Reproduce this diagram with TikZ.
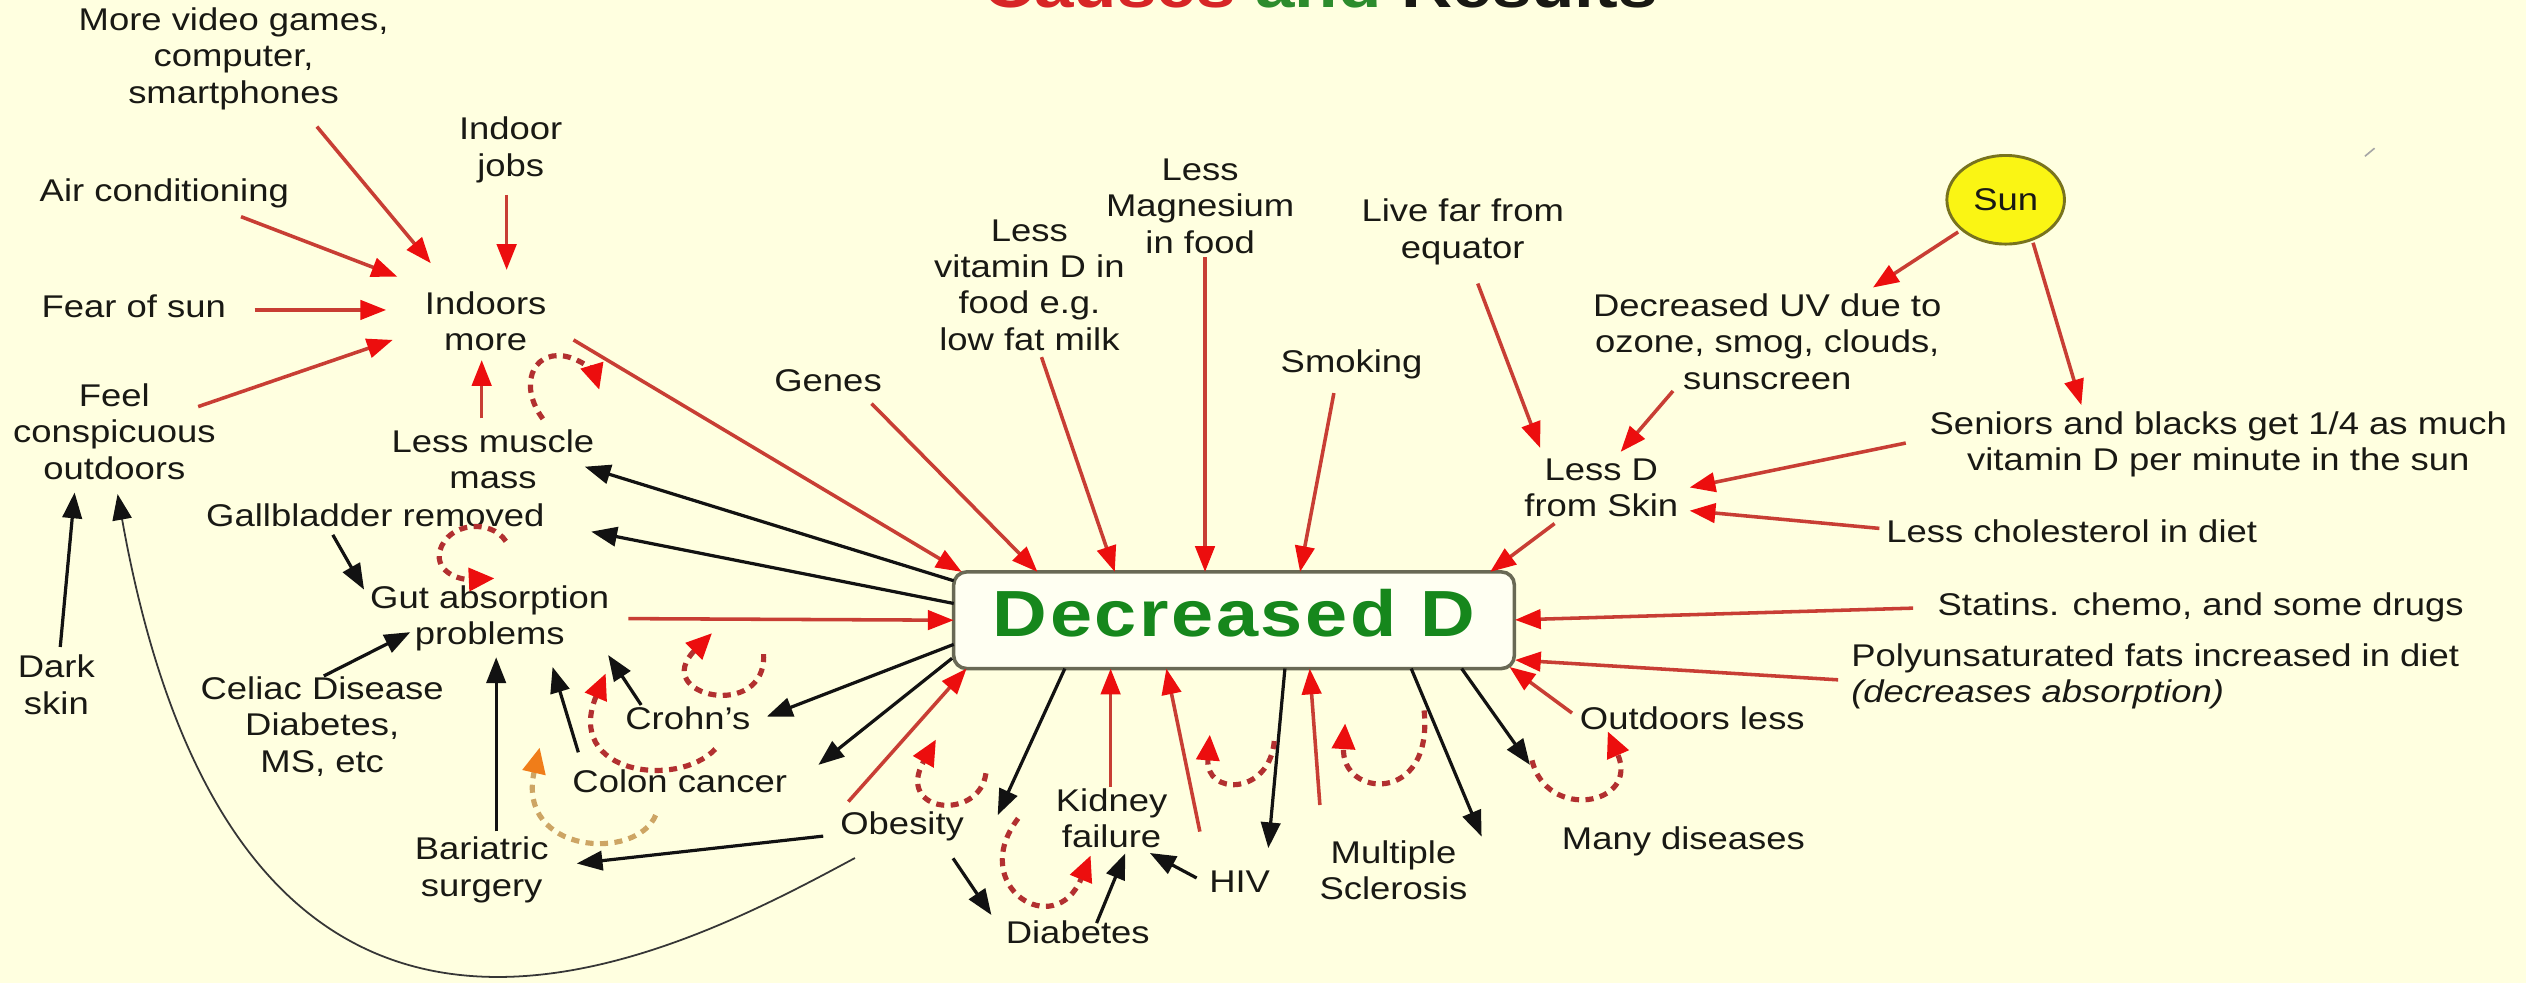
\documentclass[tikz,border=0pt]{standalone}
\usepackage{fontspec}
\setmainfont{Liberation Sans}[FakeStretch=1.16]
\newfontfamily\ddfont{Liberation Sans}[FakeStretch=1.16,LetterSpace=4]
\usetikzlibrary{arrows.meta,shapes.geometric}
\definecolor{bgc}{RGB}{255,255,224}
\definecolor{txtc}{RGB}{25,25,20}
\definecolor{redline}{RGB}{200,62,52}
\definecolor{redhead}{RGB}{236,14,14}
\definecolor{loopc}{RGB}{178,48,48}
\definecolor{orline}{RGB}{205,165,100}
\definecolor{orhead}{RGB}{240,125,25}
\definecolor{blk}{RGB}{18,18,18}
\definecolor{boxline}{RGB}{105,105,85}
\definecolor{boxfill}{RGB}{255,255,242}
\definecolor{ddgreen}{RGB}{22,135,28}
\definecolor{tred}{RGB}{215,38,38}
\definecolor{tgreen}{RGB}{45,140,45}
\definecolor{sunfill}{RGB}{250,245,20}
\definecolor{sunline}{RGB}{120,115,30}
\begin{document}
\begin{tikzpicture}[x=1pt,y=-1pt,
 txt/.style={align=center,inner sep=0pt,text=txtc,font=\fontsize{19.5}{22.5}\selectfont},
 ra/.style={draw=redline,line width=2.2pt,-{Triangle[length=16pt,width=12pt,color=redhead]}},
 ba/.style={draw=blk,line width=2pt,-{Triangle[length=16pt,width=12pt,color=blk]}},
 bthin/.style={draw=blk!85,line width=1.1pt,-{Triangle[length=16pt,width=12pt,color=blk]}},
 lp/.style={draw=loopc,line width=3.2pt,dash pattern=on 5pt off 4pt,-{Triangle[length=16pt,width=14pt,color=redhead]}},
 olp/.style={draw=orline,line width=3.2pt,dash pattern=on 5pt off 4pt,-{Triangle[length=16pt,width=14pt,color=orhead]}}]
\useasboundingbox (0,0) rectangle (1568,610);
\fill[bgc] (0,0) rectangle (1568,610);
\clip (0,0) rectangle (1568,610);

% title (cut at the top edge)
\node[anchor=base west,inner sep=0pt,text=txtc,font=\bfseries\fontsize{38}{38}\selectfont] (title) at (610,4.5)
  {\textcolor{tred}{Causes} \textcolor{tgreen}{and} Results};

% nodes
\node[txt] (vg) at (145,36.5) {More video games,\\computer,\\smartphones};
\node[txt] (ij) at (317,93) {Indoor\\jobs};
\node[txt] (ac) at (102,120) {Air conditioning};
\node[txt] (fs) at (83,190) {Fear of sun};
\node[txt] (fc) at (71,268) {Feel\\conspicuous\\outdoors};
\node[txt] (im) at (301.5,199.5) {Indoors\\more};
\node[txt] (lm) at (306,285) {Less muscle\\mass};
\node[txt] (gb) at (233,320) {Gallbladder removed};
\node[txt] (ga) at (304,384) {Gut absorption\\problems};
\node[txt] (ds) at (35,425) {Dark\\skin};
\node[txt] (cd) at (200,451) {Celiac Disease\\Diabetes,\\MS, etc};
\node[txt] (cr) at (427,446) {Crohn’s};
\node[txt] (cc) at (422,485) {Colon cancer};
\node[txt] (bs) at (299,540) {Bariatric\\surgery};
\node[txt] (ob) at (560,513) {Obesity};
\node[txt] (kf) at (690,508) {Kidney\\failure};
\node[txt] (db) at (669,579) {Diabetes};
\node[txt] (hiv) at (769.5,547) {HIV};
\node[txt] (ms) at (865,540) {Multiple\\Sclerosis};
\node[txt] (md) at (1045,522) {Many diseases};
\node[txt] (ol) at (1050.5,446) {Outdoors less};
\node[txt,align=left,anchor=west] (pf) at (1149,420) {Polyunsaturated fats increased in diet\\\textit{(decreases absorption)}};
\node[txt] (st) at (1366,377) {Statins. chemo, and some drugs};
\node[txt] (lc) at (1286,330) {Less cholesterol in diet};
\node[txt] (sb) at (1377,276) {Seniors and blacks get 1/4 as much\\vitamin D per minute in the sun};
\node[txt] (ls) at (994,303) {Less D\\from Skin};
\node[txt] (uv) at (1097,212) {Decreased UV due to\\ozone, smog, clouds,\\sunscreen};
\node[txt,ellipse,draw=sunline,fill=sunfill,line width=1.8pt,minimum width=73pt,minimum height=55pt] (sun) at (1245,124) {Sun};
\node[txt] (eq) at (908,144) {Live far from\\equator};
\node[txt] (sm) at (839,226) {Smoking};
\node[txt] (mg) at (745,128) {Less\\Magnesium\\in food};
\node[txt] (vd) at (639,177) {Less\\vitamin D in\\food e.g.\\low fat milk};
\node[txt] (ge) at (514,236) {Genes};
\node[draw=boxline,fill=boxfill,line width=2.2pt,rounded corners=8pt,minimum width=348pt,minimum height=60pt,inner sep=0pt,
  text=ddgreen,text height=29pt,text depth=9pt,font=\ddfont\bfseries\fontsize{40.5}{40.5}\selectfont] (dd) at (766,385) {Decreased D};
\coordinate (x1) at (619.3,506);

% connectors into "Indoors more"
\draw[ra] ([shift={(51.7,42.1)}]vg.center) -- ([shift={(-34.1,-36.1)}]im.center);
\draw[ra] ([shift={(-2.5,28)}]ij.center) -- ([shift={(13,-31.9)}]im.center);
\draw[ra] ([shift={(47.6,14.5)}]ac.center) -- ([shift={(-54.9,-27.8)}]im.center);
\draw[ra] ([shift={(75,2.4)}]fs.center) -- ([shift={(-61.8,-7.1)}]im.center);
\draw[ra] ([shift={(52,-15.6)}]fc.center) -- ([shift={(-57.7,11.5)}]im.center);
\draw[ra] ([shift={(-7,-25.3)}]lm.center) -- ([shift={(-2.5,24)}]im.center);
\draw[ra] ([shift={(54.5,11.5)}]im.center) -- ([shift={(-169,-30)}]dd.center);

% left side
\draw[ba] ([shift={(-174,-24.5)}]dd.center) -- ([shift={(57,4.7)}]lm.center);
\draw[ba] ([shift={(-174,-10.4)}]dd.center) -- ([shift={(134,10)}]gb.center);
\draw[ra] ([shift={(86,0)}]ga.center) -- ([shift={(-174,0)}]dd.center);
\draw[ba] ([shift={(-26.4,12)}]gb.center) -- ([shift={(-78,-18)}]ga.center);
\draw[ba] ([shift={(1,-31.4)}]cd.center) -- ([shift={(-49.3,8.4)}]ga.center);
\draw[ba] ([shift={(2.4,-23.4)}]ds.center) -- ([shift={(-24.7,37.7)}]fc.center);
\draw[bthin] ([shift={(-29.3,19.6)}]ob.center) .. controls (420,592) and (150,738) .. ([shift={(2,38.7)}]fc.center);
\draw[ba] ([shift={(9,-24)}]bs.center) -- ([shift={(4,24)}]ga.center);
\draw[ba] ([shift={(-63,-18)}]cc.center) -- ([shift={(39,30)}]ga.center);
\draw[ba] ([shift={(-29,-8.4)}]cr.center) -- ([shift={(73.5,22.6)}]ga.center);
\draw[ba] ([shift={(-174,15)}]dd.center) -- ([shift={(49,-1.2)}]cr.center);
\draw[ba] ([shift={(-175,23.6)}]dd.center) -- ([shift={(86,-10.2)}]cc.center);
\draw[ra] ([shift={(-33.4,-15.4)}]ob.center) -- ([shift={(-166,30)}]dd.center);
\draw[ba] ([shift={(-49,6)}]ob.center) -- ([shift={(59,-4)}]bs.center);
\draw[ba] ([shift={(31.6,19.8)}]ob.center) -- ([shift={(-53.6,-11)}]db.center);

% bottom
\draw[ba] ([shift={(-105,30)}]dd.center) -- (x1);
\draw[ra] ([shift={(-0.6,-19.7)}]kf.center) -- ([shift={(-76.6,30)}]dd.center);
\draw[ba] ([shift={(11.7,-6)}]db.center) -- ([shift={(8.5,21.7)}]kf.center);
\draw[ba] ([shift={(-26.7,-2)}]hiv.center) -- ([shift={(23.8,21.5)}]kf.center);
\draw[ra] ([shift={(-24.7,-30.8)}]hiv.center) -- ([shift={(-42,30)}]dd.center);
\draw[ba] ([shift={(31.6,30)}]dd.center) -- ([shift={(17.8,-20.5)}]hiv.center);
\draw[ra] ([shift={(-45.7,-40.3)}]ms.center) -- ([shift={(47,30)}]dd.center);
\draw[ba] ([shift={(110,30)}]dd.center) -- ([shift={(54.7,-20.7)}]ms.center);
\draw[ba] ([shift={(141.3,30)}]dd.center) -- ([shift={(-95.3,-47.2)}]md.center);
\draw[ra] ([shift={(-74.7,-3.4)}]ol.center) -- ([shift={(171,29)}]dd.center);

% right side
\draw[ra] ([shift={(-8,2)}]pf.west) -- ([shift={(174.4,24.7)}]dd.center);
\draw[ra] ([shift={(-178.5,0.5)}]st.center) -- ([shift={(174.4,-0.2)}]dd.center);
\draw[ra] ([shift={(-29,22)}]ls.center) -- ([shift={(159,-30)}]dd.center);
\draw[ra] ([shift={(9.3,32)}]eq.center) -- ([shift={(-38,-25)}]ls.center);
\draw[ra] ([shift={(-58.5,30.7)}]uv.center) -- ([shift={(12,-22.5)}]ls.center);
\draw[ra] ([shift={(-29.5,20)}]sun.center) -- ([shift={(65.6,-33.5)}]uv.center);
\draw[ra] ([shift={(17,26.7)}]sun.center) -- ([shift={(-85,-24.5)}]sb.center);
\draw[ra] ([shift={(-194,-1)}]sb.center) -- ([shift={(54.8,-0.4)}]ls.center);
\draw[ra] ([shift={(-119.4,-2)}]lc.center) -- ([shift={(54.8,14)}]ls.center);

% top
\draw[ra] ([shift={(27,14.5)}]ge.center) -- ([shift={(-122,-30)}]dd.center);
\draw[ra] ([shift={(7.5,44.7)}]vd.center) -- ([shift={(-74,-30)}]dd.center);
\draw[ra] ([shift={(3,31.6)}]mg.center) -- ([shift={(-18,-30)}]dd.center);
\draw[ra] ([shift={(-11,18)}]sm.center) -- ([shift={(41,-30)}]dd.center);

% feedback loops (dashed)
\draw[lp] (337,260) .. controls (322,240) and (330,218) .. (350,221) .. controls (362,223) and (369,232) .. (372,242);
\draw[lp] (314,336) .. controls (305,322) and (278,324) .. (273,342) .. controls (270,355) and (285,360) .. (307,359);
\draw[lp] (474,406) .. controls (476,448) and (403,432) .. (442,393);
\draw[lp] (444,465) .. controls (420,490) and (350,480) .. (376,418);
\draw[olp] (407,506) .. controls (395,535) and (320,530) .. (335,464);
\draw[lp] (612,480) .. controls (608,510) and (555,505) .. (581,459);
\draw[lp] (632,508) .. controls (600,550) and (655,585) .. (677,531);
\draw[lp] (791,460) .. controls (788,494) and (748,494) .. (751,456);
\draw[lp] (884,441) .. controls (890,500) and (832,495) .. (835,449);
\draw[lp] (951,472) .. controls (960,510) and (1018,500) .. (998,454);

% small stray mark
\draw[gray!70,line width=1pt] (1468,97) -- (1474,92);
\end{tikzpicture}
\end{document}
